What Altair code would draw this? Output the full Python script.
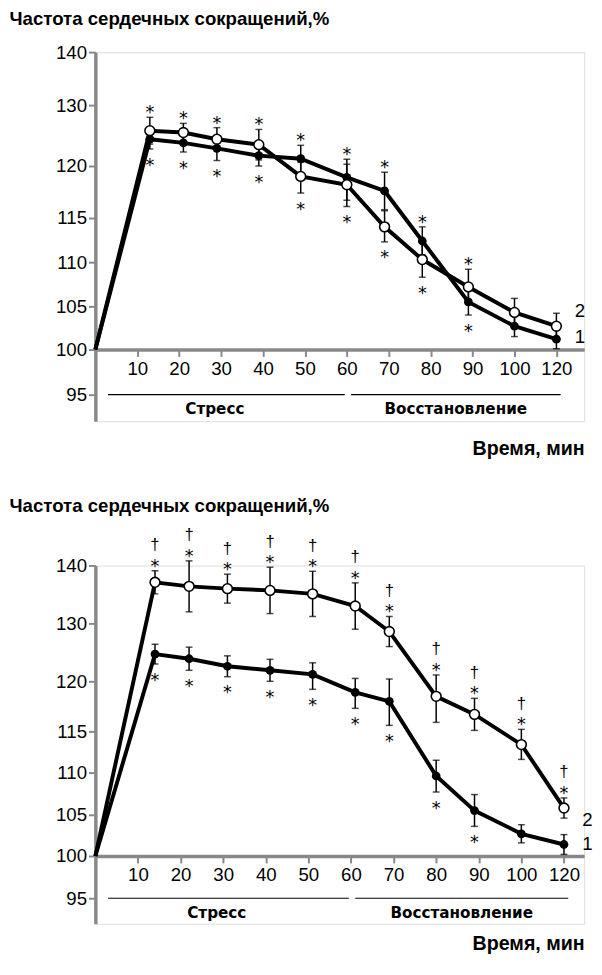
import altair as alt
import pandas as pd

FONT = "Liberation Sans"
STAR_FONT = "DejaVu Sans"

# ---------------- data ----------------
y_title = "Частота сердечных сокращений,%"
x_title = "Время, мин"
x_ticks = [10, 20, 30, 40, 50, 60, 70, 80, 90, 100, 120]
y_ticks = [95, 100, 105, 110, 115, 120, 130, 140]
series_names = ["1", "2"]

# upper panel
times_top = [0, 13, 21, 29, 39, 49, 60, 69, 78, 89, 100, 120]
s1_top = [100, 124.4, 123.8, 122.9, 121.7, 121.2, 118.9, 117.6, 112.4, 105.5, 102.7, 101.2]
e1_top = [0, 1.6, 1.5, 2.0, 1.7, 2.2, 2.2, 1.8, 1.6, 1.5, 1.2, 1.1]
s2_top = [100, 125.8, 125.5, 124.4, 123.5, 119.0, 118.2, 114.0, 110.3, 107.2, 104.3, 102.7]
e2_top = [0, 2.2, 1.5, 1.9, 2.5, 1.6, 2.1, 1.7, 2.0, 2.0, 1.6, 1.5]
star1_top = ["", "below", "below", "below", "below", "above", "above", "above", "above", "below", "", ""]
star2_top = ["", "above", "above", "above", "above", "below", "below", "below", "below", "above", "", ""]
dagger2_top = [False] * 12
label_y_top = [101.4, 104.4]

# lower panel
times_bot = [0, 14, 22, 31, 41, 51, 61, 69, 80, 89, 100, 120]
s1_bot = [100, 124.7, 123.9, 122.6, 121.9, 121.2, 118.9, 118.0, 109.6, 105.5, 102.7, 101.4]
e1_bot = [0, 1.7, 2.0, 1.8, 1.9, 2.0, 1.6, 2.4, 1.9, 1.9, 1.1, 1.2]
s2_bot = [100, 137.1, 136.4, 136.0, 135.7, 135.1, 133.0, 128.6, 118.5, 116.7, 113.4, 105.8]
e2_bot = [0, 2.0, 4.4, 2.5, 4.0, 3.9, 4.0, 2.6, 2.6, 1.6, 1.8, 1.2]
star1_bot = [""] + ["below"] * 9 + ["", ""]
star2_bot = [""] + ["above"] * 11
dagger2_bot = [False] + [True] * 11
label_y_bot = [101.4, 104.4]

# phases
phase_labels = ["Стресс", "Восстановление"]
phase_start = [3, 61]
phase_end = [59.5, 122]
phase_text_x = [28.5, 86]
phase_level = [95, 95]

# ---------------- scale geometry (style) ----------------
Y_DOMAIN = [92.5, 95, 100, 105, 110, 115, 120, 130, 140]
W = 498


def build_df(times, s1, e1, s2, e2, st1, st2, dg2):
    rows = []
    for name, vals, errs, stars, dags in (
        ("1", s1, e1, st1, [False] * len(times)),
        ("2", s2, e2, st2, dg2),
    ):
        for t, v, e, s, d in zip(times, vals, errs, stars, dags):
            rows.append(dict(time=t, series=name, value=v, err=e,
                             lo=v - e, hi=v + e, star=s, dagger=d))
    return pd.DataFrame(rows)


def panel(df, label_y, y_range, step, axis_offset, ytitle_y, xtitle_y):
    H = y_range[0]
    x_end = 120 + (W - 11 * step) / (step / 20.0)
    xs = alt.Scale(domain=[0, 100, 120, x_end], range=[0, 10 * step, 11 * step, W],
                   zero=False, nice=False)
    ys = alt.Scale(domain=Y_DOMAIN, range=y_range, zero=False, nice=False)
    xa = alt.Axis(values=x_ticks, offset=axis_offset, grid=False, domainWidth=3.5,
                  tickWidth=2, tickSize=7, labelFontSize=19, labelPadding=3,
                  labelFlush=False, labelOverlap=False,
                  title=x_title, titleFontSize=20, titleFontWeight="bold",
                  titleAlign="right", titleX=W, titleY=xtitle_y,
                  titleBaseline="alphabetic")
    ya = alt.Axis(values=y_ticks, grid=False, domainWidth=3.5, tickWidth=2, tickSize=7,
                  labelFontSize=19, labelPadding=2, labelOverlap=False,
                  title=y_title, titleAngle=0, titleX=-88, titleY=ytitle_y,
                  titleAlign="left", titleBaseline="alphabetic",
                  titleFontSize=19, titleFontWeight="bold")

    def X(f):
        return alt.X(f, type="quantitative", scale=xs, axis=xa)

    def Y(f):
        return alt.Y(f, type="quantitative", scale=ys, axis=ya)

    base = alt.Chart(df)
    phase_df = pd.DataFrame(dict(label=phase_labels, start=phase_start, end=phase_end,
                                 tx=phase_text_x, level=phase_level))
    lab_df = pd.DataFrame(dict(text=series_names, t=[120, 120], ly=label_y))

    rules = alt.Chart(phase_df).mark_rule(color="black", strokeWidth=1.2).encode(
        x=X("start"), x2="end", y=Y("level"))
    ptext = alt.Chart(phase_df).mark_text(font=STAR_FONT, fontSize=15.5, fontWeight="bold",
                                          color="black", baseline="middle", dy=15).encode(
        x=X("tx"), y=Y("level"), text="label")
    eb = base.transform_filter("datum.err > 0")
    err = eb.mark_rule(color="black", strokeWidth=1.5).encode(x=X("time"), y=Y("lo"), y2="hi")
    cap_hi = eb.mark_tick(orient="horizontal", size=7, thickness=1.5, color="black").encode(
        x=X("time"), y=Y("hi"))
    cap_lo = eb.mark_tick(orient="horizontal", size=7, thickness=1.5, color="black").encode(
        x=X("time"), y=Y("lo"))
    lines = base.mark_line(color="black", strokeWidth=4).encode(
        x=X("time"), y=Y("value"), detail="series:N", order="time:Q")
    pts_fill = base.transform_filter("datum.series == '1' && datum.time > 0").mark_point(
        shape="circle", filled=True, color="black", size=80, opacity=1).encode(
        x=X("time"), y=Y("value"))
    pts_open = base.transform_filter("datum.series == '2' && datum.time > 0").mark_point(
        shape="circle", filled=True, fill="white", stroke="black", strokeWidth=1.6,
        size=100, opacity=1).encode(x=X("time"), y=Y("value"))
    st_above = base.transform_filter("datum.star == 'above'").mark_text(
        text="*", font=STAR_FONT, fontSize=18, color="black", baseline="middle",
        dy=-4).encode(x=X("time"), y=Y("hi"))
    st_below = base.transform_filter("datum.star == 'below'").mark_text(
        text="*", font=STAR_FONT, fontSize=18, color="black", baseline="middle",
        dy=17).encode(x=X("time"), y=Y("lo"))
    dag = base.transform_filter("datum.dagger").mark_text(
        text="†", font=FONT, fontSize=17, color="black", baseline="middle",
        dy=-26).encode(x=X("time"), y=Y("hi"))
    labs = alt.Chart(lab_df).mark_text(font=FONT, fontSize=19, color="black",
                                       baseline="middle", dx=24).encode(
        x=X("t"), y=Y("ly"), text="text")
    return alt.layer(rules, ptext, err, cap_hi, cap_lo, lines, pts_fill, pts_open,
                     st_above, st_below, dag, labs).properties(width=W, height=H)


df_top = build_df(times_top, s1_top, e1_top, s2_top, e2_top, star1_top, star2_top, dagger2_top)
df_bot = build_df(times_bot, s1_bot, e1_bot, s2_bot, e2_bot, star1_bot, star2_bot, dagger2_bot)

top = panel(df_top, label_y_top, [376, 349, 303, 259, 214, 169, 116, 54, 0],
            42.7, -73, -28, 107)
bot = panel(df_bot, label_y_bot, [365, 339, 296, 254, 211, 169, 118, 59, 0],
            43.4, -69, -55, 95)

chart = alt.vconcat(top, bot, spacing=37, padding={"left": 0, "top": -8, "right": 0, "bottom": 0}
                    ).configure_view(stroke=None).configure_axis(
    domainColor="black", tickColor="black", labelColor="black", titleColor="black",
    labelFont=FONT, titleFont=FONT).configure(font=FONT)

chart.save("out.html", embed_options={"renderer": "svg", "actions": False})
